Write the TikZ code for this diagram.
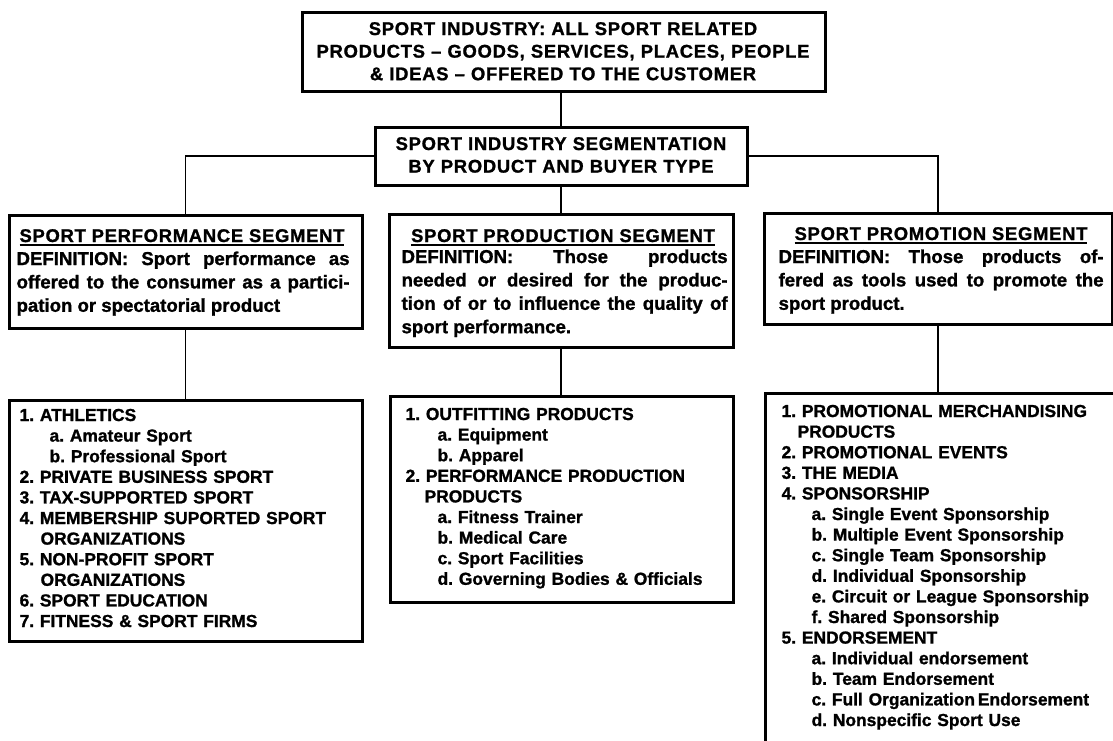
\documentclass[tikz,border=0pt]{standalone}
\usepackage{fontspec}
\setmainfont{Liberation Sans}[BoldFeatures={FakeBold=1.2}]
\newfontfamily\widefont{Liberation Sans}[LetterSpace=4.0, BoldFeatures={FakeBold=1.2}]
\usetikzlibrary{fit}
\usetikzlibrary{positioning}
\tikzset{every picture/.style={semithick}}
\tikzset{
	frame/.style={draw, line width=1.5pt, inner sep=0pt},
	link/.style={line width=0.75pt},
	toptext/.style={anchor=base, inner sep=0pt, align=center, text width=290pt, font=\widefont\bfseries\fontsize{9.2}{11.3}\selectfont},
	headtext/.style={anchor=base, inner sep=0pt, font=\widefont\bfseries\fontsize{9.2}{10}\selectfont},
	deftext/.style={anchor=base west, inner sep=0pt, align=justify, font=\bfseries\fontsize{9.3}{11.7}\selectfont},
	listtext/.style={anchor=base west, inner sep=0pt, align=left, text width=170pt, font=\bfseries\fontsize{8.7}{10.3}\selectfont}
}
\newcommand\ulhead[1]{\setbox0\hbox{#1}\rlap{\rule[-2pt]{\wd0}{0.9pt}}\box0}
\frenchspacing

\begin{document}
\begin{tikzpicture}[x=0.5pt, y=-0.5pt]
	\useasboundingbox (0,0) rectangle (1113,740);

	\node[frame, fit={(302,12) (825,91)}] (industry) {};
	\node[toptext] (industrytxt) at (563,35) {SPORT INDUSTRY: ALL SPORT RELATED\\PRODUCTS – GOODS, SERVICES, PLACES, PEOPLE\\\& IDEAS – OFFERED TO THE CUSTOMER};

	\node[frame, fit={(375,127) (747,185)}] (segm) {};
	\node[toptext] (segmtxt) at (561,150) {SPORT INDUSTRY SEGMENTATION\\BY PRODUCT AND BUYER TYPE};

	\node[frame, fit={(9,215) (362,328)}] (perf) {};
	\node[headtext] (perfhead) at (182,242) {\ulhead{SPORT PERFORMANCE SEGMENT}};
	\node[deftext, text width=166.5pt] (perfdef) at (16,265) {DEFINITION: Sport performance as\linebreak offered to the consumer as a partici-\linebreak pation or spectatorial product};

	\node[frame, fit={(389,214) (733,347)}] (prod) {};
	\node[headtext] (prodhead) at (563,242) {\ulhead{SPORT PRODUCTION SEGMENT}};
	\node[deftext, text width=163pt] (proddef) at (401,263) {DEFINITION: Those products\linebreak needed or desired for the produc-\linebreak tion of or to influence the quality of\linebreak sport performance.};

	\node[frame, fit={(764,213) (1112,324)}] (promo) {};
	\node[headtext] (promohead) at (941,240) {\ulhead{SPORT PROMOTION SEGMENT}};
	\node[deftext, text width=162.5pt] (promodef) at (778,263) {DEFINITION: Those products of-\linebreak fered as tools used to promote the\linebreak sport product.};

	\node[frame, fit={(9,400) (362,641)}] (perflist) {};
	\node[listtext] (perfitems) at (19,421) {1. ATHLETICS\\
		\hspace*{15pt}a. Amateur Sport\\
		\hspace*{15pt}b. Professional Sport\\
		2. PRIVATE BUSINESS SPORT\\
		3. TAX-SUPPORTED SPORT\\
		4. MEMBERSHIP SUPORTED SPORT\\
		\hspace*{10.5pt}ORGANIZATIONS\\
		5. NON-PROFIT SPORT\\
		\hspace*{10.5pt}ORGANIZATIONS\\
		6. SPORT EDUCATION\\
		7. FITNESS \& SPORT FIRMS};

	\node[frame, fit={(390,396) (733,602)}] (prodlist) {};
	\node[listtext] (proditems) at (405,420) {1. OUTFITTING PRODUCTS\\
		\hspace*{16pt}a. Equipment\\
		\hspace*{16pt}b. Apparel\\
		2. PERFORMANCE PRODUCTION\\
		\hspace*{9.5pt}PRODUCTS\\
		\hspace*{16pt}a. Fitness Trainer\\
		\hspace*{16pt}b. Medical Care\\
		\hspace*{16pt}c. Sport Facilities\\
		\hspace*{16pt}d. Governing Bodies \& Officials};

	\node[frame, fit={(765,393) (1130,760)}] (promolist) {};
	\node[listtext] (promoitems) at (781,417) {1. PROMOTIONAL MERCHANDISING\\
		\hspace*{8pt}PRODUCTS\\
		2. PROMOTIONAL EVENTS\\
		3. THE MEDIA\\
		4. SPONSORSHIP\\
		\hspace*{15pt}a. Single Event Sponsorship\\
		\hspace*{15pt}b. Multiple Event Sponsorship\\
		\hspace*{15pt}c. Single Team Sponsorship\\
		\hspace*{15pt}d. Individual Sponsorship\\
		\hspace*{15pt}e. Circuit or League Sponsorship\\
		\hspace*{15pt}f. Shared Sponsorship\\
		5. ENDORSEMENT\\
		\hspace*{15pt}a. Individual endorsement\\
		\hspace*{15pt}b. Team Endorsement\\
		\hspace*{15pt}c. Full Organization\,Endorsement\\
		\hspace*{15pt}d. Nonspecific Sport Use};

	\draw[link] (segm.north) -- (segm.north |- industry.south);
	\draw[link] (segm.west) -| (perf.north);
	\draw[link] (segm.east) -| (promo.north);
	\draw[link] (segm.south) -- (segm.south |- prod.north);
	\draw[link] (perf.south) -- (perf.south |- perflist.north);
	\draw[link] (prod.south) -- (prod.south |- prodlist.north);
	\draw[link] (promo.south) -- (promo.south |- promolist.north);

\end{tikzpicture}
\end{document}
